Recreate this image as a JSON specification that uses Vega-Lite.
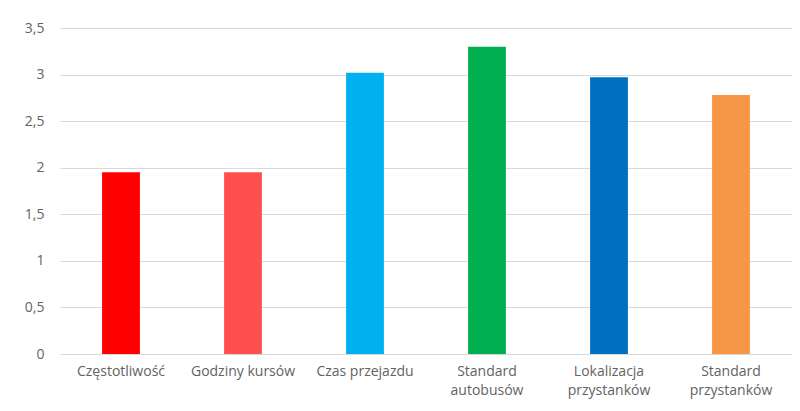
{
  "$schema": "https://vega.github.io/schema/vega-lite/v6.json",
  "width": 732,
  "height": 326,
  "autosize": {"type": "none"},
  "padding": {"left": 60, "top": 28, "right": 8, "bottom": 57},
  "background": "white",
  "config": {
    "view": {"stroke": null},
    "font": "Open Sans",
    "axis": {"labelFont": "Open Sans", "labelColor": "#636363", "labelFontSize": 14}
  },
  "data": {
    "values": [
      {"kategoria": "Częstotliwość", "wartosc": 1.95},
      {"kategoria": "Godziny kursów", "wartosc": 1.95},
      {"kategoria": "Czas przejazdu", "wartosc": 3.02},
      {"kategoria": "Standard autobusów", "wartosc": 3.30},
      {"kategoria": "Lokalizacja przystanków", "wartosc": 2.97},
      {"kategoria": "Standard przystanków", "wartosc": 2.78}
    ]
  },
  "mark": {"type": "bar"},
  "encoding": {
    "x": {
      "field": "kategoria",
      "type": "nominal",
      "sort": null,
      "scale": {"paddingInner": 0.69, "paddingOuter": 0.345},
      "axis": {
        "title": null,
        "labelAngle": 0,
        "domain": false,
        "ticks": false,
        "labelPadding": 10,
        "labelBaseline": "top",
        "labelLineHeight": 19,
        "labelExpr": "indexof(datum.value, 'Standard') == 0 || indexof(datum.value, 'Lokalizacja') == 0 ? split(datum.value, ' ') : datum.value"
      }
    },
    "y": {
      "field": "wartosc",
      "type": "quantitative",
      "scale": {"domain": [0, 3.5], "nice": false},
      "axis": {
        "title": null,
        "values": [0, 0.5, 1, 1.5, 2, 2.5, 3, 3.5],
        "domain": false,
        "ticks": false,
        "labelPadding": 16,
        "gridColor": "#D9D9D9",
        "gridWidth": 1,
        "labelExpr": "replace(format(datum.value, ''), '.', ',')"
      }
    },
    "color": {
      "field": "kategoria",
      "type": "nominal",
      "legend": null,
      "scale": {
        "domain": ["Częstotliwość", "Godziny kursów", "Czas przejazdu", "Standard autobusów", "Lokalizacja przystanków", "Standard przystanków"],
        "range": ["#FF0000", "#FF5050", "#00B0F0", "#00B050", "#0070C0", "#F79646"]
      }
    }
  }
}
